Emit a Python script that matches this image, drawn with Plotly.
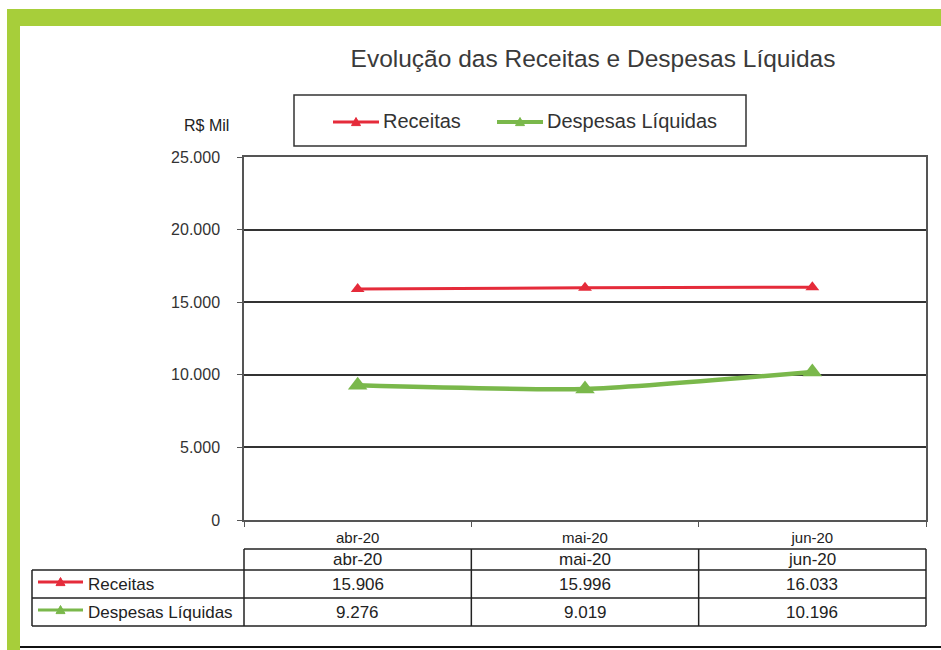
import plotly.graph_objects as go

# data (R$ mil)
meses = ['abr-20', 'mai-20', 'jun-20']
receitas = [15906, 15996, 16033]
despesas = [9276, 9019, 10196]
series_names = ['Receitas', 'Despesas Líquidas']
series_colors = ['#E52B3A', '#7AB84B']

W, H = 941, 650
L, R, T, B = 244, 15, 157, 130          # plot area margins in px
PW, PH = W - L - R, H - T - B


def px_x(p):
    return (p - L) / PW


def px_y(p):
    return (H - B - p) / PH


def fmt(v):
    return f"{v:,}".replace(',', '.')


def key(shapes, x0, x1, y, col, lw, s):
    # little line + triangle legend key, in px
    shapes.append(dict(type='line', xref='paper', yref='paper', x0=px_x(x0), x1=px_x(x1),
                       y0=px_y(y), y1=px_y(y), line=dict(color=col, width=lw)))
    cx = (x0 + x1) / 2
    path = 'M {} {} L {} {} L {} {} Z'.format(px_x(cx - s), px_y(y + s * 0.8),
                                             px_x(cx + s), px_y(y + s * 0.8),
                                             px_x(cx), px_y(y - s))
    shapes.append(dict(type='path', xref='paper', yref='paper', path=path,
                       fillcolor=col, line=dict(color=col, width=1)))


fig = go.Figure()

# main lines
fig.add_trace(go.Scatter(x=meses, y=receitas, name=series_names[0], mode='lines+markers',
                         line=dict(color=series_colors[0], width=3, shape='spline', smoothing=0.6),
                         marker=dict(symbol='triangle-up', size=12, color=series_colors[0])))
fig.add_trace(go.Scatter(x=meses, y=despesas, name=series_names[1], mode='lines+markers',
                         line=dict(color=series_colors[1], width=4.5, shape='spline', smoothing=0.6),
                         marker=dict(symbol='triangle-up', size=17, color=series_colors[1])))

shapes = []
ann = []

# green frame + bottom rule
shapes.append(dict(type='rect', xref='paper', yref='paper', x0=px_x(7), x1=px_x(941),
                   y0=px_y(9), y1=px_y(26), fillcolor='#A7CE3A', line_width=0, layer='below'))
shapes.append(dict(type='rect', xref='paper', yref='paper', x0=px_x(7), x1=px_x(20),
                   y0=px_y(9), y1=px_y(650), fillcolor='#A7CE3A', line_width=0, layer='below'))
shapes.append(dict(type='line', xref='paper', yref='paper', x0=px_x(20), x1=px_x(941),
                   y0=px_y(647), y1=px_y(647), line=dict(color='#111', width=2)))

# legend box (drawn by hand so the spacing matches)
shapes.append(dict(type='rect', xref='paper', yref='paper', x0=px_x(294), x1=px_x(746),
                   y0=px_y(95), y1=px_y(146), line=dict(color='#333', width=1.5)))
for name, col, kx, lw in zip(series_names, series_colors, [333, 497], [3, 4]):
    key(shapes, kx, kx + 46, 122, col, lw, 4.5)
    ann.append(dict(x=px_x(kx + 48), xref='paper', y=px_y(121), yref='paper', text=name,
                    showarrow=False, xanchor='left', yanchor='middle',
                    font=dict(size=20, color='#333')))

# data table under the chart
tcol = '#222'
row_top, head_bot, row1_bot, row2_bot = 549, 570, 598, 626
left_edge = 32
shapes.append(dict(type='line', xref='paper', yref='paper', x0=0, x1=1,
                   y0=px_y(row_top), y1=px_y(row_top), line=dict(color=tcol, width=1.5)))
for yy in [head_bot, row1_bot, row2_bot]:
    shapes.append(dict(type='line', xref='paper', yref='paper', x0=px_x(left_edge), x1=1,
                       y0=px_y(yy), y1=px_y(yy), line=dict(color=tcol, width=1.5)))
shapes.append(dict(type='line', xref='paper', yref='paper', x0=px_x(left_edge), x1=px_x(left_edge),
                   y0=px_y(head_bot), y1=px_y(row2_bot), line=dict(color=tcol, width=1.5)))
for i in range(len(meses) + 1):
    xp = i / len(meses)
    shapes.append(dict(type='line', xref='paper', yref='paper', x0=xp, x1=xp,
                       y0=px_y(row_top), y1=px_y(row2_bot), line=dict(color=tcol, width=1.5)))

# header + values
for m, r_, d_ in zip(meses, receitas, despesas):
    ann.append(dict(x=m, xref='x', y=px_y((row_top + head_bot) / 2), yref='paper', text=m,
                    showarrow=False, font=dict(size=17, color=tcol), yanchor='middle'))
    ann.append(dict(x=m, xref='x', y=px_y((head_bot + row1_bot) / 2), yref='paper', text=fmt(r_),
                    showarrow=False, font=dict(size=17, color=tcol), yanchor='middle'))
    ann.append(dict(x=m, xref='x', y=px_y((row1_bot + row2_bot) / 2), yref='paper', text=fmt(d_),
                    showarrow=False, font=dict(size=17, color=tcol), yanchor='middle'))

# row labels with legend keys
for name, col, yc in zip(series_names, series_colors,
                         [(head_bot + row1_bot) / 2, (row1_bot + row2_bot) / 2]):
    key(shapes, 38, 83, yc - 2, col, 3, 4.5)
    ann.append(dict(x=px_x(86), xref='paper', y=px_y(yc), yref='paper', text=name,
                    showarrow=False, xanchor='left', yanchor='middle',
                    font=dict(size=17, color=tcol)))

# unit label
ann.append(dict(x=px_x(206), xref='paper', y=px_y(125), yref='paper', text='R$ Mil',
                showarrow=False, xanchor='center', yanchor='middle',
                font=dict(size=16, color='#222')))

fig.update_layout(
    width=W, height=H,
    margin=dict(l=L, r=R, t=T, b=B, autoexpand=False),
    paper_bgcolor='white', plot_bgcolor='white',
    separators=',.',
    showlegend=False,
    font=dict(family='Arial, Liberation Sans, sans-serif', color='#333'),
    title=dict(text='Evolução das Receitas e Despesas Líquidas', x=px_x(593), xref='paper',
               xanchor='center', y=1 - 58 / H, yanchor='middle', font=dict(size=24.5, color='#3a3a3a')),
    shapes=shapes,
    annotations=ann,
)

fig.update_xaxes(type='category', range=[-0.5, 2.5], showline=True, linecolor='#555', linewidth=1.5,
                 mirror=True, ticks='outside', tickson='boundaries', ticklen=5, tickcolor='#555',
                 showgrid=False, tickfont=dict(size=15, color='#222'), ticklabelstandoff=3)
fig.update_yaxes(range=[0, 25000], dtick=5000, tickformat=',', showline=True, linecolor='#555',
                 linewidth=1.5, mirror=True, ticks='outside', ticklen=5, tickcolor='#555',
                 showgrid=True, gridcolor='#333', gridwidth=1.5, zeroline=False,
                 tickfont=dict(size=16, color='#333'), ticklabelstandoff=14)

# page body has a default 8px margin; drop it so the figure sits at 0,0
fig.write_html("out.html", config={'displayModeBar': False},
               post_script="document.body.style.margin='0';")
